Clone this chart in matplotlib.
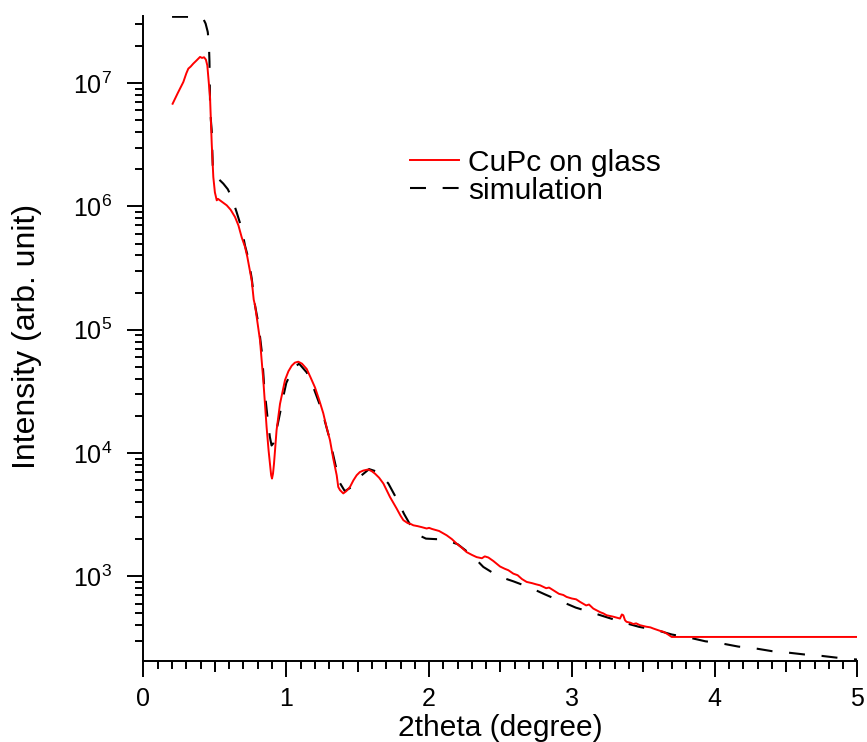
import math
import matplotlib
matplotlib.use("Agg")
import matplotlib.pyplot as plt
from matplotlib.ticker import FixedLocator, LogLocator, FuncFormatter, NullFormatter, MultipleLocator

plt.rcParams['font.family'] = ['Liberation Sans', 'DejaVu Sans']
plt.rcParams['lines.scale_dashes'] = False

# Measured data (CuPc on glass)
meas_x = [0.204, 0.24, 0.279, 0.30, 0.314, 0.33, 0.349, 0.37, 0.396, 0.41, 0.424, 0.437,
          0.447, 0.458, 0.466, 0.478, 0.489, 0.50, 0.513, 0.522, 0.531, 0.555, 0.583,
          0.61, 0.641, 0.665, 0.688, 0.711, 0.727, 0.745, 0.758, 0.772, 0.781, 0.80,
          0.816, 0.839, 0.862, 0.876, 0.886, 0.894, 0.900, 0.907, 0.914, 0.932, 0.956,
          0.991, 1.015, 1.038, 1.06, 1.084, 1.11, 1.143, 1.17, 1.201, 1.23, 1.259,
          1.283, 1.306, 1.329, 1.353, 1.364, 1.376, 1.399, 1.42, 1.446, 1.47, 1.493,
          1.515, 1.539, 1.574, 1.60, 1.621, 1.65, 1.680, 1.726, 1.773, 1.80, 1.820,
          1.85, 1.87, 1.890, 1.92, 1.95, 1.983, 2.00, 2.02, 2.053, 2.07, 2.09, 2.123,
          2.16, 2.193, 2.23, 2.263, 2.30, 2.333, 2.37, 2.39, 2.415, 2.45, 2.497,
          2.53, 2.555, 2.59, 2.62, 2.65, 2.683, 2.72, 2.75, 2.777, 2.82, 2.84, 2.870,
          2.91, 2.94, 2.963, 3.0, 3.03, 3.057, 3.10, 3.12, 3.150, 3.20, 3.22, 3.243,
          3.29, 3.337, 3.350, 3.360, 3.372, 3.383, 3.41, 3.43, 3.45, 3.477, 3.52,
          3.55, 3.570, 3.62, 3.64, 3.664, 3.699, 5.0]
meas_y = [6.8e6, 8.3e6, 1.02e7, 1.2e7, 1.31e7, 1.36e7, 1.44e7, 1.52e7, 1.63e7, 1.6e7,
          1.62e7, 1.55e7, 1.39e7, 1.0e7, 7.7e6, 3.2e6, 1.73e6, 1.3e6, 1.12e6, 1.15e6,
          1.13e6, 1.08e6, 1.02e6, 9.4e5, 8.2e5, 7.0e5, 5.6e5, 4.7e5, 3.9e5, 3.0e5,
          2.5e5, 1.75e5, 1.58e5, 1.1e5, 8.2e4, 3.9e4, 1.63e4, 1.05e4, 8.2e3, 6.6e3,
          6.2e3, 6.8e3, 8.2e3, 1.53e4, 2.5e4, 3.9e4, 4.6e4, 5.1e4, 5.4e4, 5.5e4, 5.3e4,
          4.8e4, 4.1e4, 3.4e4, 2.7e4, 2.1e4, 1.6e4, 1.27e4, 9.0e3, 6.6e3, 5.3e3, 5.0e3,
          4.7e3, 4.9e3, 5.3e3, 6.0e3, 6.6e3, 7.0e3, 7.2e3, 7.35e3, 7.1e3, 6.8e3, 6.3e3,
          5.65e3, 4.4e3, 3.54e3, 3.1e3, 2.85e3, 2.7e3, 2.66e3, 2.59e3, 2.55e3, 2.5e3,
          2.44e3, 2.47e3, 2.42e3, 2.36e3, 2.33e3, 2.26e3, 2.15e3, 2.0e3, 1.84e3,
          1.7e3, 1.57e3, 1.49e3, 1.43e3, 1.40e3, 1.45e3, 1.42e3, 1.33e3, 1.2e3, 1.15e3,
          1.12e3, 1.05e3, 1.02e3, 950, 900, 880, 860, 845, 800, 810, 770, 720, 705,
          680, 660, 650, 620, 580, 590, 547, 510, 500, 483, 470, 454, 490, 483, 440,
          427, 420, 410, 415, 401, 390, 385, 377, 360, 355, 343, 322, 322]

# Simulation
sim_x = [0.20, 0.30, 0.38, 0.42, 0.435, 0.450, 0.458, 0.462, 0.466, 0.472, 0.478, 0.485,
         0.50, 0.53, 0.559, 0.59, 0.617, 0.652, 0.688, 0.711, 0.734, 0.758, 0.78, 0.806,
         0.83, 0.845, 0.87, 0.885, 0.897, 0.91, 0.93, 0.956, 0.98, 1.0, 1.05, 1.09,
         1.143, 1.19, 1.25, 1.30, 1.35, 1.376, 1.41, 1.458, 1.528, 1.58, 1.644, 1.715,
         1.78, 1.825, 1.89, 1.94, 1.978, 2.05, 2.1, 2.2, 2.3, 2.38, 2.485, 2.59, 2.707,
         2.81, 2.917, 3.027, 3.14, 3.25, 3.36, 3.47, 3.595, 3.7, 3.822, 3.934, 4.051,
         4.165, 4.284, 4.4, 4.518, 4.63, 4.75, 4.865, 5.0]
sim_y = [3.45e7, 3.45e7, 3.42e7, 3.3e7, 3.04e7, 2.6e7, 2.1e7, 1.5e7, 7e6, 5e6, 4.1e6,
         2.15e6, 1.75e6, 1.65e6, 1.53e6, 1.38e6, 1.19e6, 9e5, 6.6e5, 4.8e5, 3.8e5,
         2.6e5, 1.6e5, 1.1e5, 6.4e4, 3.5e4, 1.87e4, 1.35e4, 1.15e4, 1.2e4, 1.5e4,
         2.1e4, 2.9e4, 3.7e4, 4.9e4, 5.3e4, 4.5e4, 3.4e4, 2.2e4, 1.35e4, 7.5e3, 5.7e3,
         4.9e3, 5.3e3, 6.6e3, 7.4e3, 7.0e3, 5.65e3, 4.1e3, 3.2e3, 2.36e3, 2.12e3,
         2.02e3, 2.0e3, 2.0e3, 1.82e3, 1.48e3, 1.19e3, 1000, 910, 809, 714, 631, 557,
         508, 463, 422, 389, 365, 337, 318, 297, 285, 269, 260, 247, 240, 232, 226,
         218, 211]

x_major = [0, 1, 2, 3, 4, 5]
x_half = [0.5, 1.5, 2.5, 3.5, 4.5]

fig = plt.figure(figsize=(8.67, 7.42), dpi=100)
ax = fig.add_axes([0.1655, 0.109, 0.8235, 0.869])

ax.plot(meas_x, meas_y, color='#ff0000', lw=1.4, label='CuPc on glass', zorder=3)
ax.plot(sim_x, sim_y, color='black', lw=1.5, dashes=(11.5, 12), label='simulation', zorder=2)

ax.set_yscale('log')
ax.set_xlim(0, 5)
ax.set_ylim(205, 3.48e7)

for s in ['top', 'right']:
    ax.spines[s].set_visible(False)
for s in ['left', 'bottom']:
    ax.spines[s].set_linewidth(1.4)

ax.xaxis.set_major_locator(FixedLocator(x_major))
ax.xaxis.set_minor_locator(MultipleLocator(0.1))
ax.yaxis.set_major_locator(LogLocator(base=10, numticks=20))
ax.yaxis.set_minor_locator(LogLocator(base=10, subs=range(2, 10), numticks=50))
ax.yaxis.set_minor_formatter(NullFormatter())
ax.yaxis.set_major_formatter(FuncFormatter(
    lambda v, p: r'$\mathregular{10^{%d}}$' % round(math.log10(v))))

ax.tick_params(axis='both', which='major', direction='out', length=11.5, width=1.4,
               labelsize=18, color='black')
ax.tick_params(axis='both', which='minor', direction='out', length=5.5, width=1.4)
ax.tick_params(axis='x', which='major', pad=7)
ax.tick_params(axis='y', which='major', pad=11)

sec = ax.secondary_xaxis('bottom')
sec.set_xticks(x_half)
sec.tick_params(axis='x', which='major', direction='out', length=8, width=1.4,
                labelbottom=False)
sec.xaxis.set_minor_locator(FixedLocator([]))
sec.spines['bottom'].set_visible(False)

ax.set_xlabel('2theta (degree)', fontsize=21.5)
ax.set_ylabel('Intensity (arb. unit)', fontsize=23)
ax.xaxis.set_label_coords(0.5, -0.082)
ax.yaxis.set_label_coords(-0.142, 0.504)

leg = ax.legend(loc='upper left', bbox_to_anchor=(0.373, 0.795), frameon=False,
                fontsize=21.5, handlelength=1.65, handletextpad=0.3, labelspacing=0.0,
                borderpad=0, borderaxespad=0)

fig.savefig('out.png', dpi=100)
